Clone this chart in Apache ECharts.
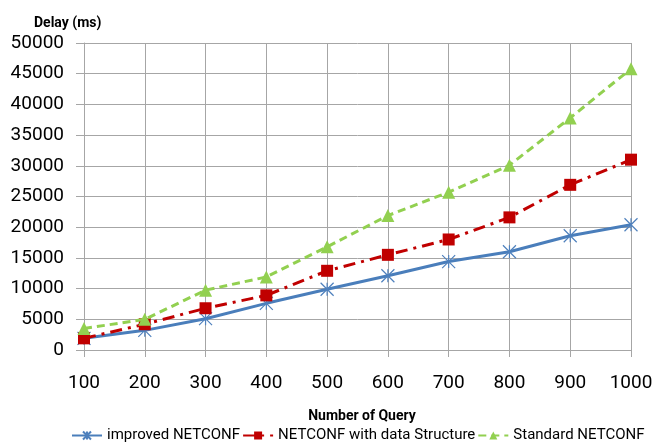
<!DOCTYPE html>
<html>
<head>
<meta charset="utf-8">
<script src="https://cdn.jsdelivr.net/npm/echarts@6/dist/echarts.min.js"></script>
<style>
  html, body { margin: 0; padding: 0; background: #fff; }
  #chart { width: 664px; height: 446px; }
</style>
</head>
<body>
<div id="chart"></div>
<script>
// Query counts on the x axis
const queries = ['100', '200', '300', '400', '500', '600', '700', '800', '900', '1000'];
// Delay in milliseconds for each approach
const improvedNetconf = [1900, 3200, 5100, 7600, 9900, 12100, 14400, 16000, 18600, 20400];
const netconfDataStructure = [1900, 4200, 6800, 8900, 12900, 15500, 18000, 21600, 26900, 31000];
const standardNetconf = [3500, 5000, 9750, 11900, 16800, 21900, 25700, 30100, 37800, 45800];

const FONT = 'Roboto, "Open Sans", sans-serif';
const gridColor = '#a6a6a6';

const chart = echarts.init(document.getElementById('chart'), null, { renderer: 'canvas' });
chart.setOption({
  animation: false,
  backgroundColor: '#fff',
  grid: { left: 84, right: 33, top: 43, bottom: 96 },
  title: [
    { text: 'Delay (ms)', left: 29, top: 11,
      textStyle: { fontFamily: FONT, fontWeight: 'bold', fontSize: 14, color: '#000' } },
    { text: 'Number of Query', left: 357, top: 404, textAlign: 'center',
      textStyle: { fontFamily: FONT, fontWeight: 'bold', fontSize: 14, color: '#000' } }
  ],
  legend: {
    bottom: -2, left: 66, itemGap: 2, itemWidth: 30, itemHeight: 10,
    textStyle: { fontFamily: FONT, fontSize: 15, color: '#000' },
    data: ['improved NETCONF', 'NETCONF with data Structure', 'Standard NETCONF']
  },
  xAxis: {
    type: 'category', data: queries, boundaryGap: false,
    axisLine: { lineStyle: { color: gridColor } },
    axisTick: { alignWithLabel: true, length: 7, lineStyle: { color: gridColor } },
    axisLabel: { fontFamily: FONT, fontSize: 19, color: '#000', margin: 24 },
    splitLine: { show: true, lineStyle: { color: gridColor, width: 1 } }
  },
  yAxis: {
    type: 'value', min: 0, max: 50000, interval: 5000,
    axisLine: { show: true, lineStyle: { color: gridColor } },
    axisTick: { show: true, length: 8, lineStyle: { color: gridColor } },
    axisLabel: { fontFamily: FONT, fontSize: 19, color: '#000', margin: 20,
                 formatter: v => String(v) },
    splitLine: { lineStyle: { color: gridColor, width: 1 } }
  },
  series: [
    {
      name: 'improved NETCONF', type: 'line', data: improvedNetconf,
      symbol: 'path://M0,0L10,10M10,0L0,10M5,0L5,10', symbolSize: 13,
      itemStyle: { color: '#4f81bd', borderColor: '#4f81bd', borderWidth: 1.2 },
      lineStyle: { color: '#4a7ebb', width: 3 }, z: 2
    },
    {
      name: 'NETCONF with data Structure', type: 'line', data: netconfDataStructure,
      symbol: 'rect', symbolSize: 12,
      itemStyle: { color: '#c00000' },
      lineStyle: { color: '#c00000', width: 3, type: [12, 6, 3, 6] }, z: 3
    },
    {
      name: 'Standard NETCONF', type: 'line', data: standardNetconf,
      symbol: 'triangle', symbolSize: 13,
      itemStyle: { color: '#92d050' },
      lineStyle: { color: '#92d050', width: 3, type: [8, 5] }, z: 4
    }
  ]
});
</script>
</body>
</html>
